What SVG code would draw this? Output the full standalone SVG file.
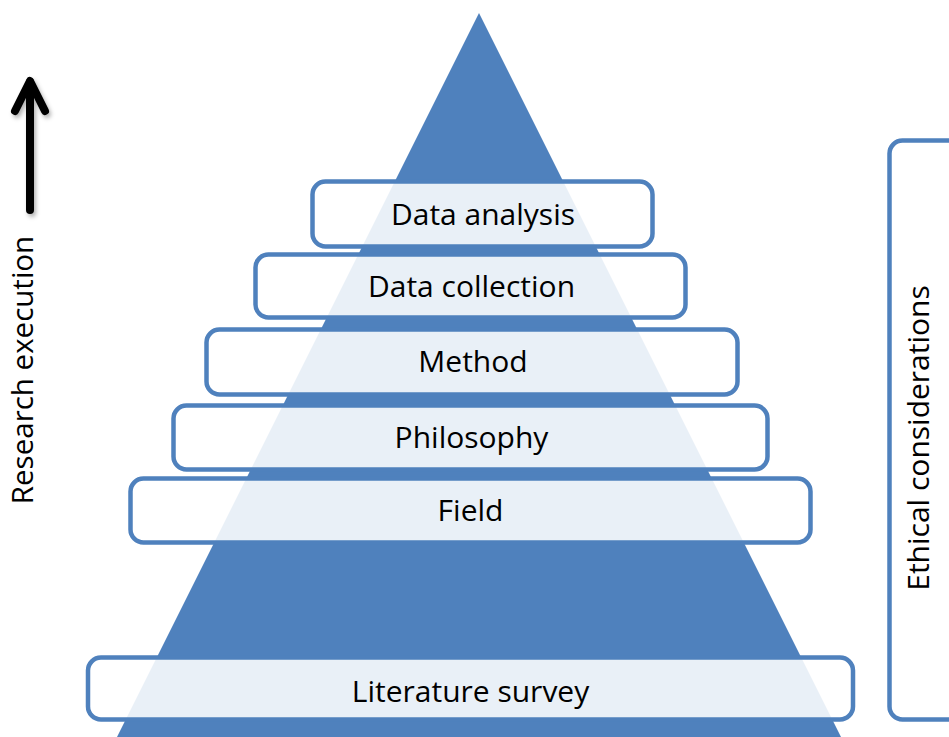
<svg xmlns="http://www.w3.org/2000/svg" width="949" height="737" viewBox="0 0 949 737">
  <style>
    .box { fill: #ffffff; fill-opacity: 0.88; stroke: #4F81BD; stroke-width: 4.5; }
    .lbl { font-family: "Open Sans", "Noto Sans", "Liberation Sans", sans-serif; font-size: 30px; fill: #000000; text-anchor: middle; }
    .arrow { fill: none; stroke: #000000; stroke-width: 8; stroke-linecap: round; stroke-linejoin: round; }
  </style>
  <defs>
    <filter id="shadow" x="-50%" y="-20%" width="200%" height="140%">
      <feDropShadow dx="2" dy="3" stdDeviation="2" flood-color="#000000" flood-opacity="0.3"/>
    </filter>
  </defs>
  <rect width="949" height="737" fill="#ffffff"/>
  <g id="pyramid">
    <polygon points="479,13 117,737 841,737" fill="#4F81BD"/>
  </g>
  <g id="data-analysis">
    <rect class="box" x="312.5" y="181.5" width="340" height="65" rx="13"/>
    <text class="lbl" x="483" y="225">Data analysis</text>
  </g>
  <g id="data-collection">
    <rect class="box" x="255.5" y="254.5" width="430" height="63" rx="13"/>
    <text class="lbl" x="471.5" y="297">Data collection</text>
  </g>
  <g id="method">
    <rect class="box" x="206.5" y="329.5" width="531" height="65" rx="13"/>
    <text class="lbl" x="473" y="372">Method</text>
  </g>
  <g id="philosophy">
    <rect class="box" x="173.5" y="405.5" width="594" height="64" rx="13"/>
    <text class="lbl" x="471.5" y="448">Philosophy</text>
  </g>
  <g id="field">
    <rect class="box" x="130.5" y="478.5" width="680" height="64" rx="13"/>
    <text class="lbl" x="470.5" y="521">Field</text>
  </g>
  <g id="literature-survey">
    <rect class="box" x="88" y="657.5" width="765" height="62" rx="13"/>
    <text class="lbl" x="470.5" y="702">Literature survey</text>
  </g>
  <g id="ethical-considerations">
    <rect class="box" x="889.5" y="140.5" width="100" height="579" rx="13"/>
    <text class="lbl" transform="translate(929,438) rotate(-90)" x="0" y="0">Ethical considerations</text>
  </g>
  <g id="research-execution">
    <text class="lbl" style="font-size:29.5px" transform="translate(33,370) rotate(-90)" x="0" y="0">Research execution</text>
  </g>
  <g id="connectors">
    <g filter="url(#shadow)">
      <path class="arrow" d="M30,210 L30,82"/>
      <path class="arrow" d="M15,111 L30,81 L45,111"/>
    </g>
  </g>
</svg>
